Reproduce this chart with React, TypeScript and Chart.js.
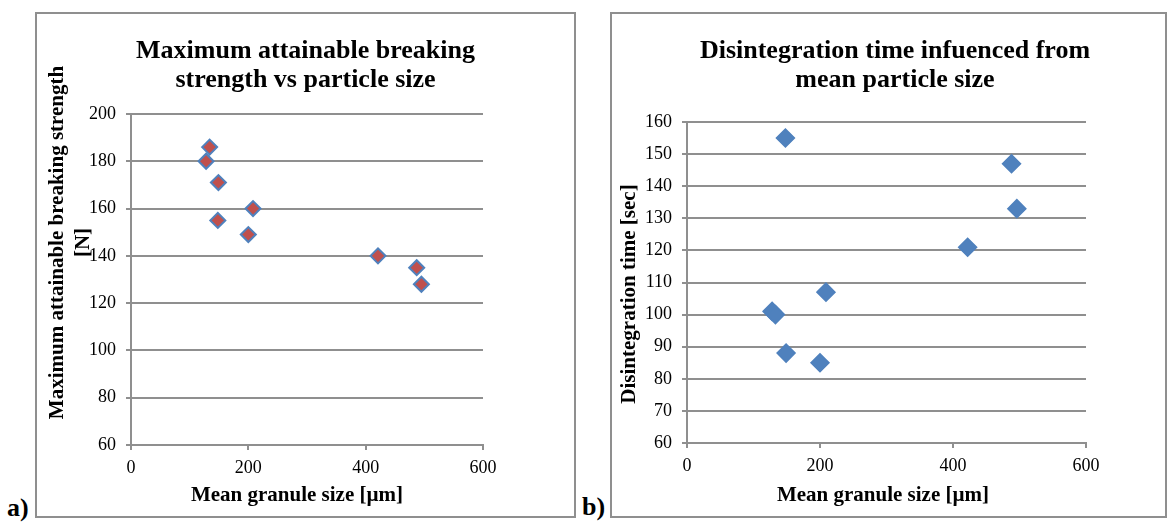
import React, { useEffect, useRef } from 'react';
import { Chart, registerables } from 'chart.js';

Chart.register(...registerables);

// ---- Data ----
const granuleSizeA = [134, 128, 149, 148, 208, 200, 421, 487, 495];
const breakingStrength = [186, 180, 171, 155, 160, 149, 140, 135, 128];

const granuleSizeB = [148, 488, 496, 422, 209, 128, 133, 149, 200];
const disintegrationTime = [155, 147, 133, 121, 107, 101, 100, 88, 85];

const xTicks = [0, 200, 400, 600];
const yTicksA = [60, 80, 100, 120, 140, 160, 180, 200];
const yTicksB = [60, 70, 80, 90, 100, 110, 120, 130, 140, 150, 160];

const titleA = ['Maximum attainable breaking', 'strength vs particle size'];
const yTitleA = ['Maximum attainable breaking strength', '[N]'];
const titleB = ['Disintegration time infuenced from', 'mean particle size'];
const yTitleB = ['Disintegration time [sec]'];
const xTitle = 'Mean granule size [µm]';

const SERIF = '"Liberation Serif", "Times New Roman", serif';
const GRID = '#8f8f8f';

type PanelCfg = {
  box: { left: number; top: number; w: number; h: number };
  xs: number[];
  ys: number[];
  yTicks: number[];
  title: string[];
  yTitle: string[];
  pad: { top: number; right: number };
  yWidth: number;
  xHeight: number;
  point: { radius: number; fill: string; stroke: string; borderWidth: number };
  text: {
    titleX: number; titleY: number[];
    yTitleX: number; yTitleY: number; yTitleGap: number;
    xTitleX: number; xTitleY: number;
  };
};

const panelA: PanelCfg = {
  box: { left: 35, top: 12, w: 541, h: 506 },
  xs: granuleSizeA,
  ys: breakingStrength,
  yTicks: yTicksA,
  title: titleA,
  yTitle: yTitleA,
  pad: { top: 100, right: 91 },
  yWidth: 94,
  xHeight: 71,
  point: { radius: 7.5, fill: '#c0504d', stroke: '#4f81bd', borderWidth: 2 },
  text: { titleX: 268.5, titleY: [44, 73], yTitleX: 21, yTitleY: 228.5, yTitleGap: 26, xTitleX: 260, xTitleY: 482 },
};

const panelB: PanelCfg = {
  box: { left: 610, top: 12, w: 557, h: 506 },
  xs: granuleSizeB,
  ys: disintegrationTime,
  yTicks: yTicksB,
  title: titleB,
  yTitle: yTitleB,
  pad: { top: 108, right: 79 },
  yWidth: 75,
  xHeight: 73,
  point: { radius: 9, fill: '#4f81bd', stroke: '#4f81bd', borderWidth: 1.5 },
  text: { titleX: 283, titleY: [44, 73], yTitleX: 18, yTitleY: 280, yTitleGap: 26, xTitleX: 271, xTitleY: 482 },
};

function ScatterPanel({ cfg }: { cfg: PanelCfg }) {
  const ref = useRef<HTMLCanvasElement>(null);
  const cw = cfg.box.w - 4;
  const ch = cfg.box.h - 4;

  useEffect(() => {
    const textPlugin = {
      id: 'panelText',
      afterDraw(chart: any) {
        const ctx = chart.ctx as CanvasRenderingContext2D;
        const t = cfg.text;
        ctx.save();
        ctx.fillStyle = '#000';
        ctx.textAlign = 'center';
        ctx.textBaseline = 'alphabetic';
        ctx.font = `bold 26px ${SERIF}`;
        cfg.title.forEach((line, i) => ctx.fillText(line, t.titleX, t.titleY[i]));

        ctx.font = `bold 21px ${SERIF}`;
        ctx.textBaseline = 'middle';
        ctx.fillText(xTitle, t.xTitleX, t.xTitleY);

        ctx.translate(t.yTitleX, t.yTitleY);
        ctx.rotate(-Math.PI / 2);
        cfg.yTitle.forEach((line, i) => ctx.fillText(line, 0, i * t.yTitleGap));
        ctx.restore();
      },
    };

    const tickFont = { family: SERIF, size: 18 };
    const chart = new Chart(ref.current!, {
      type: 'scatter',
      data: {
        datasets: [
          {
            data: cfg.xs.map((x, i) => ({ x, y: cfg.ys[i] })),
            pointStyle: 'rectRot',
            pointRadius: cfg.point.radius,
            pointHoverRadius: cfg.point.radius,
            backgroundColor: cfg.point.fill,
            borderColor: cfg.point.stroke,
            borderWidth: cfg.point.borderWidth,
          },
        ],
      },
      options: {
        responsive: false,
        animation: false,
        events: [],
        layout: { padding: { left: 0, top: cfg.pad.top, right: cfg.pad.right, bottom: 0 } },
        plugins: {
          legend: { display: false },
          tooltip: { enabled: false },
          title: { display: false },
        },
        scales: {
          x: {
            type: 'linear',
            min: xTicks[0],
            max: xTicks[xTicks.length - 1],
            afterBuildTicks: (s: any) => {
              s.ticks = xTicks.map((v) => ({ value: v }));
            },
            afterFit: (s: any) => {
              s.height = cfg.xHeight;
            },
            ticks: { font: tickFont, color: '#000', padding: 7, maxRotation: 0 },
            grid: { drawOnChartArea: false, drawTicks: true, tickLength: 5, color: GRID, lineWidth: 2 },
            border: { display: true, color: GRID, width: 2 },
          },
          y: {
            type: 'linear',
            min: cfg.yTicks[0],
            max: cfg.yTicks[cfg.yTicks.length - 1],
            afterBuildTicks: (s: any) => {
              s.ticks = cfg.yTicks.map((v) => ({ value: v }));
            },
            afterFit: (s: any) => {
              s.width = cfg.yWidth;
            },
            ticks: { font: tickFont, color: '#000', padding: 10 },
            grid: { drawOnChartArea: true, drawTicks: true, tickLength: 5, color: GRID, lineWidth: 2 },
            border: { display: true, color: GRID, width: 2 },
          },
        },
      },
      plugins: [textPlugin],
    } as any);
    return () => chart.destroy();
  }, []);

  return (
    <div
      style={{
        position: 'absolute',
        left: cfg.box.left,
        top: cfg.box.top,
        width: cfg.box.w,
        height: cfg.box.h,
        border: `2px solid ${GRID}`,
        boxSizing: 'border-box',
        background: '#fff',
      }}
    >
      <canvas ref={ref} width={cw} height={ch} style={{ display: 'block', width: cw, height: ch }} />
    </div>
  );
}

const labelStyle: React.CSSProperties = {
  position: 'absolute',
  font: `bold 26px ${SERIF}`,
  lineHeight: '26px',
  color: '#000',
  whiteSpace: 'nowrap',
};

export default function App() {
  return (
    <div
      style={{
        position: 'absolute',
        left: 0,
        top: 0,
        width: 1170,
        height: 522,
        overflow: 'hidden',
        background: '#fff',
      }}
    >
      <ScatterPanel cfg={panelA} />
      <ScatterPanel cfg={panelB} />
      <div style={{ ...labelStyle, left: 7, top: 495 }}>a)</div>
      <div style={{ ...labelStyle, left: 582, top: 494 }}>b)</div>
    </div>
  );
}
